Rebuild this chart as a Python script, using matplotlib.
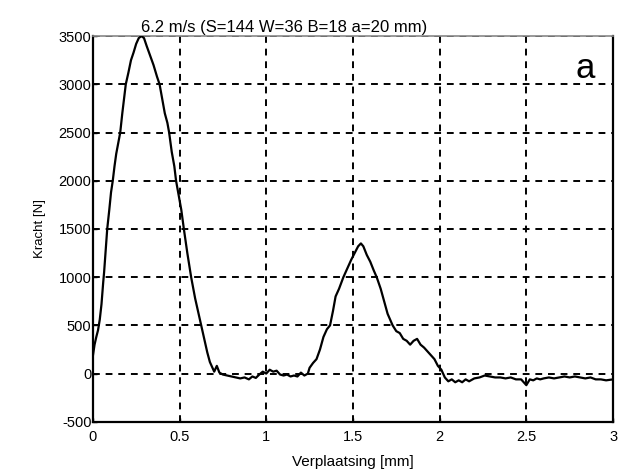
import matplotlib
matplotlib.use("Agg")
import matplotlib.pyplot as plt

disp = [0.000, 0.010, 0.020, 0.030, 0.040, 0.050, 0.060, 0.065, 0.075, 0.083,
        0.095, 0.105, 0.115, 0.125, 0.135, 0.150, 0.158, 0.170, 0.180, 0.190,
        0.205, 0.220, 0.235, 0.250, 0.265, 0.280, 0.295, 0.310, 0.330, 0.350,
        0.370, 0.385, 0.400, 0.415, 0.430, 0.440, 0.455, 0.470, 0.480, 0.495,
        0.510, 0.525, 0.545, 0.567, 0.590, 0.610, 0.625, 0.640, 0.660, 0.675,
        0.690, 0.700, 0.715, 0.730, 0.750, 0.775, 0.800, 0.825, 0.850, 0.875,
        0.900, 0.920, 0.940, 0.960, 0.980, 1.000, 1.020, 1.040, 1.060, 1.080,
        1.100, 1.120, 1.140, 1.160, 1.180, 1.200, 1.220, 1.240, 1.250, 1.270,
        1.290, 1.310, 1.330, 1.350, 1.368, 1.385, 1.400, 1.420, 1.445, 1.470,
        1.490, 1.510, 1.530, 1.546, 1.560, 1.580, 1.600, 1.620, 1.637, 1.660,
        1.680, 1.700, 1.729, 1.750, 1.770, 1.790, 1.810, 1.830, 1.850, 1.870,
        1.890, 1.910, 1.930, 1.950, 1.970, 1.990, 2.010, 2.030, 2.050, 2.070,
        2.090, 2.110, 2.130, 2.150, 2.170, 2.200, 2.230, 2.260, 2.290, 2.320,
        2.350, 2.380, 2.410, 2.440, 2.470, 2.500, 2.520, 2.540, 2.560, 2.580,
        2.600, 2.630, 2.660, 2.690, 2.720, 2.750, 2.780, 2.810, 2.840, 2.870,
        2.900, 2.930, 2.960, 3.000]
force = [180, 300, 380, 450, 560, 720, 950, 1050, 1300, 1500,
         1700, 1880, 2000, 2150, 2280, 2420, 2500, 2700, 2850, 3000,
         3120, 3250, 3330, 3420, 3480, 3500, 3480, 3400, 3300, 3200,
         3080, 3000, 2850, 2700, 2600, 2500, 2300, 2150, 2000, 1850,
         1700, 1500, 1250, 1000, 780, 620, 500, 380, 220, 120,
         60, 20, 80, 10, -10, -20, -30, -40, -50, -40,
         -60, -30, -45, -10, 20, 0, 40, 20, 30, -10,
         -20, -10, -30, -20, -30, 10, -20, 0, 60, 110,
         150, 250, 380, 460, 500, 650, 800, 880, 1000, 1100,
         1180, 1250, 1320, 1350, 1320, 1230, 1160, 1070, 1000, 880,
         750, 620, 500, 440, 420, 360, 340, 300, 340, 360,
         300, 270, 230, 190, 150, 80, 40, -40, -80, -60,
         -90, -70, -90, -60, -80, -50, -40, -20, -30, -40,
         -40, -50, -40, -60, -60, -120, -60, -70, -50, -60,
         -50, -40, -50, -40, -30, -40, -30, -40, -50, -40,
         -60, -60, -70, -60]

xticks = [0, 0.5, 1, 1.5, 2, 2.5, 3]
xticklabels = ["0", "0.5", "1", "1.5", "2", "2.5", "3"]
yticks = [-500, 0, 500, 1000, 1500, 2000, 2500, 3000, 3500]

plt.rcParams['font.family'] = ['Liberation Sans', 'DejaVu Sans']
plt.rcParams['axes.unicode_minus'] = False

fig = plt.figure(figsize=(6.23, 4.75), dpi=100)
ax = fig.add_axes([0.149, 0.112, 0.835, 0.812])

ax.plot(disp, force, color='black', lw=1.6, zorder=3)

ax.set_xlim(0, 3)
ax.set_ylim(-500, 3500)
ax.set_xticks(xticks)
ax.set_xticklabels(xticklabels)
ax.set_yticks(yticks)
ax.tick_params(labelsize=10.5, length=3, width=1, direction='in')
ax.tick_params(axis='x', pad=6)
ax.tick_params(axis='y', pad=1)
ax.grid(True, color='black', linestyle=(0, (3.5, 3)), lw=1.4)
for s in ['left', 'bottom', 'right']:
    ax.spines[s].set_linewidth(1.6)
ax.spines['top'].set_color('#888888')
ax.spines['top'].set_linewidth(1.2)

ax.set_xlabel("Verplaatsing [mm]", fontsize=11, labelpad=8)
ax.set_ylabel("Kracht [N]", fontsize=9.5, labelpad=9)
ax.set_title("6.2 m/s (S=144 W=36 B=18 a=20 mm)", fontsize=12, pad=3, x=0.367)
ax.text(0.946, 0.915, "a", transform=ax.transAxes, fontsize=25,
        ha='center', va='center')

fig.savefig("out.png", dpi=100)
